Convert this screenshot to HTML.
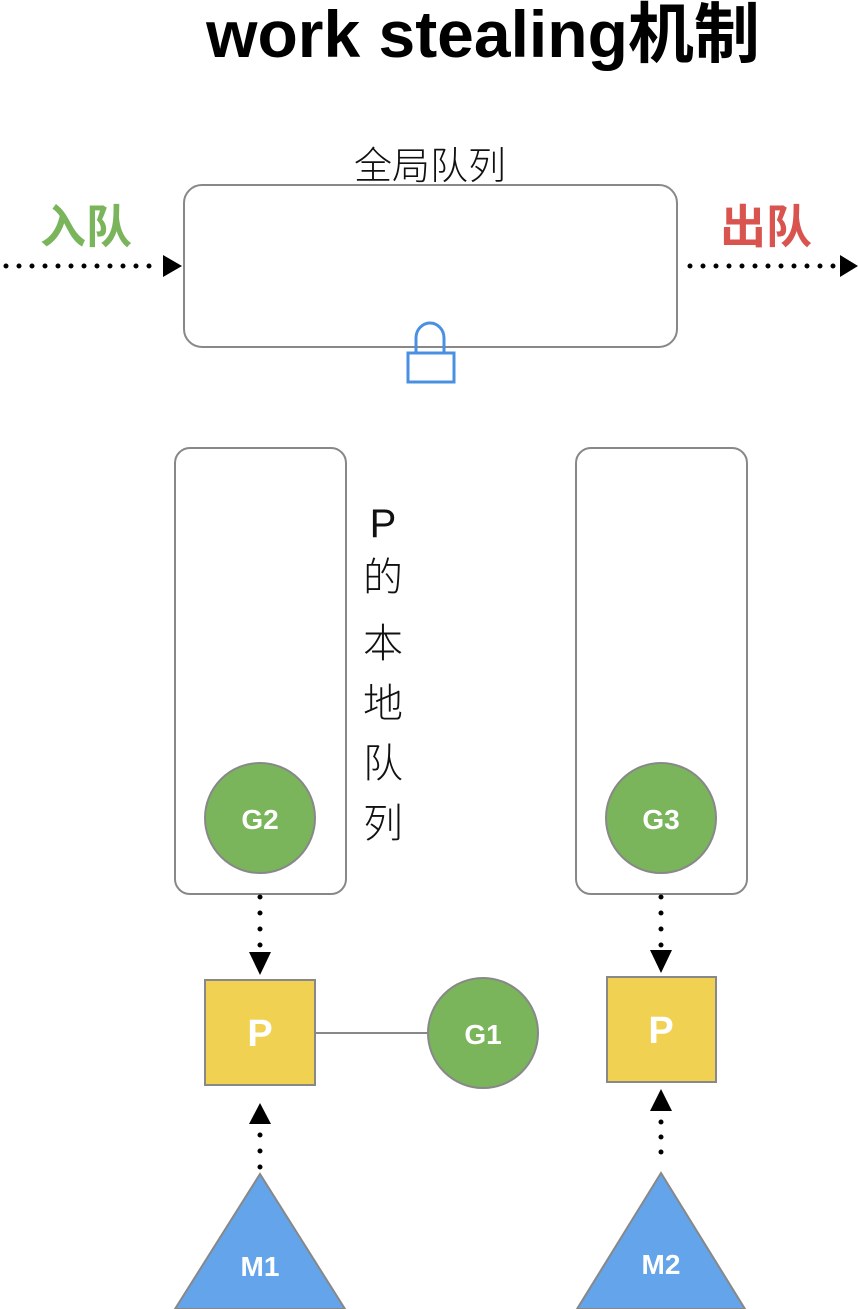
<!DOCTYPE html>
<html><head><meta charset="utf-8"><style>
html,body{margin:0;padding:0;background:#fff;}
svg{display:block;}
text{font-family:"Liberation Sans","Noto Sans CJK SC",sans-serif;}
</style></head><body>
<svg width="858" height="1309" viewBox="0 0 858 1309" xmlns="http://www.w3.org/2000/svg">
<text x="483" y="57" font-size="66" font-weight="bold" text-anchor="middle" fill="#000">work stealing机制</text>

<text x="430" y="179" font-size="38" text-anchor="middle" fill="#111" font-weight="300">全局队列</text>
<rect x="184" y="185" width="493" height="162" rx="18" fill="#fff" stroke="#888" stroke-width="2"/>
<text x="86" y="243" font-size="46" text-anchor="middle" fill="#7ab55c" font-weight="bold">入队</text>
<text x="766" y="243" font-size="46" text-anchor="middle" fill="#d9534f" font-weight="bold">出队</text>

<line x1="6" y1="266" x2="160" y2="266" stroke="#000" stroke-width="5" stroke-linecap="round" stroke-dasharray="0 13"/>
<polygon points="163,255 182,266 163,277" fill="#000"/>
<line x1="690" y1="266" x2="836" y2="266" stroke="#000" stroke-width="5" stroke-linecap="round" stroke-dasharray="0 13"/>
<polygon points="840,255 858,266 840,277" fill="#000"/>

<path d="M416,354 V338 A14,15 0 0 1 444,338 V354" fill="none" stroke="#4a90e2" stroke-width="3"/>
<rect x="408" y="353" width="46" height="29" fill="#fff" stroke="#4a90e2" stroke-width="3"/>

<rect x="175" y="448" width="171" height="446" rx="15" fill="#fff" stroke="#888" stroke-width="2"/>
<rect x="576" y="448" width="171" height="446" rx="15" fill="#fff" stroke="#888" stroke-width="2"/>

<g font-size="40" text-anchor="middle" fill="#111" font-weight="300">
<text x="383" y="537">P</text>
<text x="383" y="591">的</text>
<text x="383" y="657">本</text>
<text x="383" y="717">地</text>
<text x="383" y="777">队</text>
<text x="383" y="837">列</text>
</g>

<circle cx="260" cy="818" r="55" fill="#7ab55c" stroke="#888" stroke-width="2"/>
<text x="260" y="829" font-size="28" font-weight="bold" fill="#fff" text-anchor="middle">G2</text>
<circle cx="661" cy="818" r="55" fill="#7ab55c" stroke="#888" stroke-width="2"/>
<text x="661" y="829" font-size="28" font-weight="bold" fill="#fff" text-anchor="middle">G3</text>

<line x1="260" y1="897" x2="260" y2="946" stroke="#000" stroke-width="5" stroke-linecap="round" stroke-dasharray="0 16"/>
<polygon points="249,952 271,952 260,975" fill="#000"/>
<line x1="661" y1="897" x2="661" y2="946" stroke="#000" stroke-width="5" stroke-linecap="round" stroke-dasharray="0 16"/>
<polygon points="650,950 672,950 661,973" fill="#000"/>

<rect x="205" y="980" width="110" height="105" fill="#f0d152" stroke="#888" stroke-width="2"/>
<text x="260" y="1046" font-size="38" font-weight="bold" fill="#fff" text-anchor="middle">P</text>
<rect x="607" y="977" width="109" height="105" fill="#f0d152" stroke="#888" stroke-width="2"/>
<text x="661" y="1043" font-size="38" font-weight="bold" fill="#fff" text-anchor="middle">P</text>

<line x1="316" y1="1033" x2="428" y2="1033" stroke="#888" stroke-width="2"/>
<circle cx="483" cy="1033" r="55" fill="#7ab55c" stroke="#888" stroke-width="2"/>
<text x="483" y="1044" font-size="28" font-weight="bold" fill="#fff" text-anchor="middle">G1</text>

<polygon points="249,1124 271,1124 260,1103" fill="#000"/>
<line x1="260" y1="1135" x2="260" y2="1168" stroke="#000" stroke-width="5" stroke-linecap="round" stroke-dasharray="0 16"/>
<polygon points="650,1111 672,1111 661,1089" fill="#000"/>
<line x1="661" y1="1122" x2="661" y2="1167" stroke="#000" stroke-width="5" stroke-linecap="round" stroke-dasharray="0 15"/>

<polygon points="260,1174 345,1309 175,1309" fill="#63a4ea" stroke="#888" stroke-width="2"/>
<text x="260" y="1276" font-size="28" font-weight="bold" fill="#fff" text-anchor="middle">M1</text>
<polygon points="661,1173 745,1309 577,1309" fill="#63a4ea" stroke="#888" stroke-width="2"/>
<text x="661" y="1274" font-size="28" font-weight="bold" fill="#fff" text-anchor="middle">M2</text>
</svg>
</body></html>
